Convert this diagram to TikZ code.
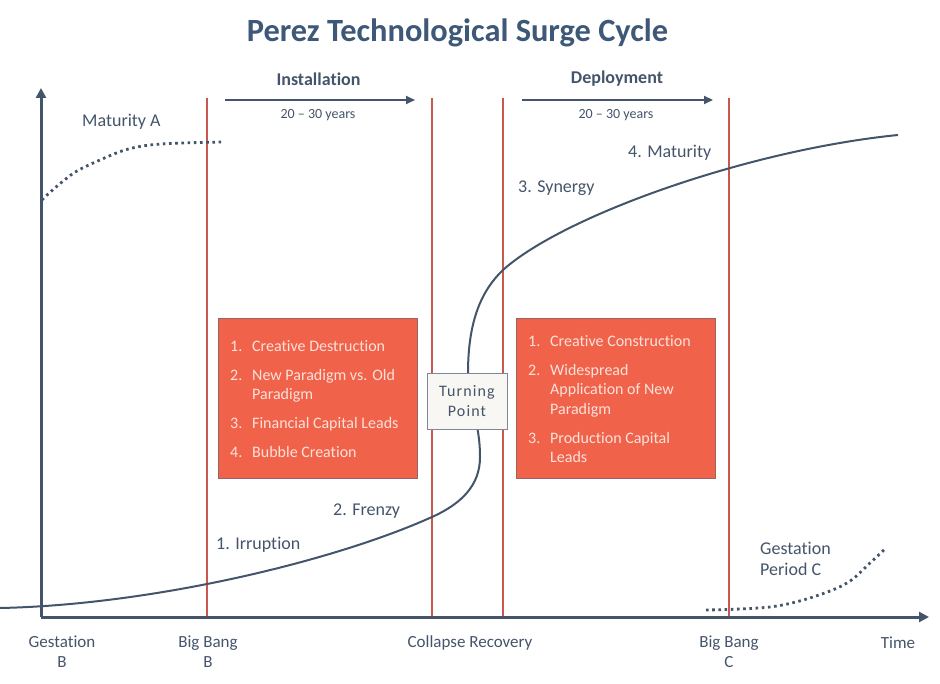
\documentclass[tikz,border=0pt]{standalone}
\usepackage{fontspec}
\setmainfont[Ligatures=NoCommon]{Carlito}
\newfontfamily\spacedfont[LetterSpace=7,Ligatures=NoCommon]{Carlito}
\usetikzlibrary{arrows.meta}
\definecolor{ink}{RGB}{68,84,106}
\definecolor{titleblue}{RGB}{62,88,120}
\definecolor{redline}{RGB}{200,88,78}
\definecolor{boxred}{RGB}{240,98,74}
\definecolor{boxedge}{RGB}{150,100,100}
\definecolor{boxtext}{RGB}{252,226,218}
\definecolor{tpfill}{RGB}{249,247,243}
\begin{document}
\begin{tikzpicture}[x=1pt,y=-1pt,
  lbl/.style={text=ink,font=\fontsize{18}{20}\selectfont,inner sep=0pt},
  axislbl/.style={text=ink,font=\fontsize{17}{20}\selectfont,inner sep=0pt,align=center},
  phase/.style={text=ink,font=\bfseries\fontsize{18}{21}\selectfont,inner sep=0pt},
  years/.style={text=ink,font=\fontsize{14}{16}\selectfont,inner sep=0pt},
  axisline/.style={draw=ink,line width=3pt,-{Triangle[width=10pt,length=10pt]}},
  phasearrow/.style={draw=ink,line width=2pt,-{Triangle[width=8pt,length=9pt]}},
  redrule/.style={draw=redline,line width=1.6pt},
  curve/.style={draw=ink,line width=2pt},
  dotcurve/.style={draw=ink,line width=2.8pt,dash pattern=on 2.6pt off 3.6pt},
  listbox/.style={fill=boxred,draw=boxedge,line width=0.6pt},
  listtext/.style={text=boxtext,font=\fontsize{16}{19.5}\selectfont,inner sep=0pt,anchor=north west},
  tpbox/.style={fill=tpfill,draw=ink!70,line width=0.8pt,minimum width=80pt,minimum height=56pt,
    inner sep=0pt,align=center,text=ink,font=\spacedfont\fontsize{16}{20.5}\selectfont}
]
\useasboundingbox (0,0) rectangle (940,684);

% title
\node[text=titleblue,font=\bfseries\fontsize{32.4}{36}\selectfont,inner sep=0pt] (title) at (457.5,33) {Perez Technological Surge Cycle};

% vertical red rules
\foreach \n/\x in {bbB/207,col/432,rec/503,bbC/729}{
  \coordinate (\n top) at (\x,98);
  \coordinate (\n bot) at (\x,617);
  \draw[redrule] (\n top) -- (\n bot);
}

% axes
\coordinate (origin) at (41,617);
\coordinate (ytip) at (41,88);
\coordinate (xtip) at (929,617);
\draw[axisline] (origin) -- (ytip);
\draw[axisline] (origin) -- (xtip);

% phase arrows
\coordinate (ia) at (225,100); \coordinate (ib) at (415,100);
\coordinate (da) at (522,100); \coordinate (db) at (713,100);
\draw[phasearrow] (ia) -- (ib);
\draw[phasearrow] (da) -- (db);
\node[phase] (inst) at (318.5,79) {Installation};
\node[years] (iyears) at (318,115) {20 -- 30 years};
\node[phase] (depl) at (617,79) {Deployment};
\node[years] (dyears) at (616,115) {20 -- 30 years};

% dotted curves
\draw[dotcurve] plot[smooth,tension=0.6] coordinates {(42,200) (47,195) (62,182) (77,171) (100,160) (125,150) (150,145) (183,143) (224,142)};
\draw[dotcurve] plot[smooth,tension=0.6] coordinates {(706,610) (740,609) (777,606) (813,597) (847,583) (870,563) (886,548)};

% main surge curve
\coordinate (c0) at (0,608);
\coordinate (c1) at (432,517);
\coordinate (c2) at (480,457);
\coordinate (c3) at (468,373);
\coordinate (c4) at (503,270);
\coordinate (c5) at (898,135);
\draw[curve] (c0) .. controls (150,605) and (332,562) .. (c1)
  .. controls (462,503.5) and (480,485) .. (c2)
  .. controls (480,420) and (468,405) .. (c3)
  .. controls (468,320) and (482,290) .. (c4)
  .. controls (563,216) and (748,150) .. (c5);

% list boxes
\path[listbox] (218,318) rectangle (417,478);
\node[listtext] (list1) at (230,337.3) {\begin{tabular}[t]{@{}p{22pt}@{}l@{}}
1. & Creative Destruction\\[9.5pt]
2. & New Paradigm vs. Old\\
   & Paradigm\\[9.5pt]
3. & Financial Capital Leads\\[9.5pt]
4. & Bubble Creation
\end{tabular}};
\path[listbox] (516,318) rectangle (715,478);
\node[listtext] (list2) at (528,332.3) {\begin{tabular}[t]{@{}p{22pt}@{}l@{}}
1. & Creative Construction\\[9.5pt]
2. & Widespread\\
   & Application of New\\
   & Paradigm\\[9.5pt]
3. & Production Capital\\
   & Leads
\end{tabular}};

% turning point
\node[tpbox] (tp) at (467,401) {Turning\\Point};

% curve labels
\node[lbl,anchor=west] (matA) at (82,122) {Maturity A};
\node[lbl,anchor=west] (irr) at (216,545) {1. Irruption};
\node[lbl,anchor=west] (fren) at (333,511) {2. Frenzy};
\node[lbl,anchor=west] (syn) at (518,188) {3. Synergy};
\node[lbl,anchor=west] (matur) at (628,153) {4. Maturity};
\node[lbl,anchor=west,align=left,font=\fontsize{18}{20.5}\selectfont] (gestC) at (760,559) {Gestation\\Period C};

% axis labels
\node[axislbl] (gestB) at (62,652) {Gestation\\B};
\node[axislbl] (bigB) at (208,652) {Big Bang\\B};
\node[axislbl] (colrec) at (470,643) {Collapse Recovery};
\node[axislbl] (bigC) at (729,652) {Big Bang\\C};
\node[axislbl] (time) at (898,643) {Time};
\end{tikzpicture}
\end{document}
